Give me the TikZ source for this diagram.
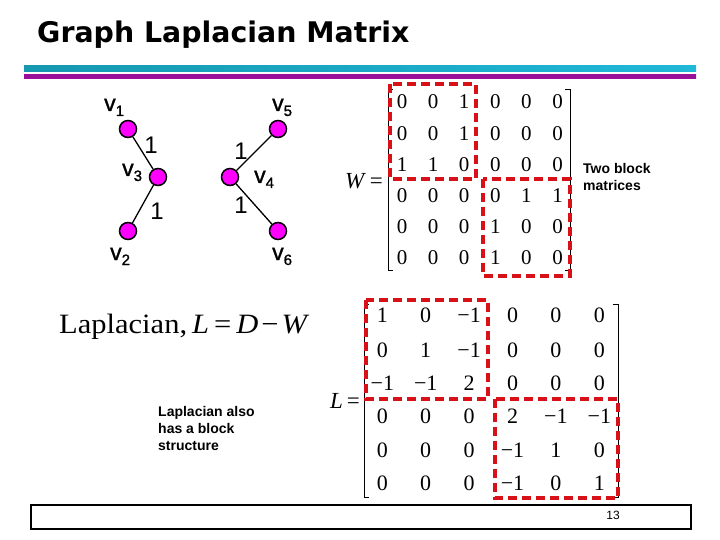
\documentclass[tikz,border=0pt]{standalone}
\usepackage{fontspec}
\setmainfont{Liberation Sans}
\newfontfamily\titlefont{DejaVu Sans}
\newfontfamily\mathserif{Liberation Serif}
\newfontfamily\wideserif[FakeStretch=1.09]{Liberation Serif}
\newfontfamily\medsans[FakeBold=1.2]{Liberation Sans}
\definecolor{nodepink}{HTML}{FF00FF}
\definecolor{dashred}{HTML}{D81018}
\definecolor{barcyan}{HTML}{20B8D8}
\definecolor{barcyand}{HTML}{1598B0}
\definecolor{barpurple}{HTML}{D820D0}
\definecolor{barpurpled}{HTML}{981098}
\tikzset{
  vertex/.style={circle,draw=black,line width=1.5pt,fill=nodepink,minimum size=17pt,inner sep=0pt},
  edgeline/.style={line width=1.3pt,black},
  vlabel/.style={anchor=base west,inner sep=0pt,font=\medsans\fontsize{23}{23}\selectfont},
  wlabel/.style={inner sep=0pt,font=\fontsize{24}{24}\selectfont},
  note/.style={anchor=north west,inner sep=0pt,align=left,font=\fontsize{14}{17}\bfseries\selectfont},
  wcell/.style={inner sep=0pt,font=\mathserif\fontsize{21}{21}\selectfont},
  lcell/.style={inner sep=0pt,font=\mathserif\fontsize{22}{22}\selectfont},
  mathtext/.style={inner sep=0pt,font=\mathserif\fontsize{23}{23}\selectfont},
  brack/.style={line width=1pt,black},
  redbox/.style={draw=dashred,line width=3.6pt,dash pattern=on 9pt off 5pt},
}
\newcommand{\sbs}[1]{\raisebox{-5pt}{\fontsize{15}{15}\selectfont #1}}
\begin{document}
\begin{tikzpicture}[x=1pt,y=-1pt]
\useasboundingbox (0,0) rectangle (720,540);
\fill[white] (0,0) rectangle (720,540);
% title
\node[anchor=base west,inner sep=0pt,font=\titlefont\bfseries\fontsize{28.4}{29}\selectfont] (title) at (37,43) {Graph Laplacian Matrix};
% bars
\shade[left color=barcyand,middle color=barcyan,right color=barcyan] (24,66) rectangle (696,72);
\shade[left color=barpurpled,middle color=barpurple,right color=barpurpled] (24,75) rectangle (696,79);
% graph
\node[vertex] (n1) at (128,129) {};
\node[vertex] (n3) at (158,177) {};
\node[vertex] (n2) at (128,231) {};
\node[vertex] (n5) at (278,129) {};
\node[vertex] (n4) at (230,177) {};
\node[vertex] (n6) at (278,231) {};
\draw[edgeline] (n1) -- (n3);
\draw[edgeline] (n3) -- (n2);
\draw[edgeline] (n5) -- (n4);
\draw[edgeline] (n4) -- (n6);
\node[vlabel] (l1) at (104,111) {v\sbs{1}};
\node[vlabel] (l5) at (272,111) {v\sbs{5}};
\node[vlabel] (l3) at (122,176) {v\sbs{3}};
\node[vlabel] (l4) at (254,183) {v\sbs{4}};
\node[vlabel] (l2) at (110,260) {v\sbs{2}};
\node[vlabel] (l6) at (272,260) {v\sbs{6}};
\node[wlabel] (w1) at (151,145) {1};
\node[wlabel] (w2) at (157,211) {1};
\node[wlabel] (w3) at (241,151) {1};
\node[wlabel] (w4) at (241,205) {1};
% W matrix
\node[mathtext,anchor=east] (Wlab) at (383,181) {\textit{W}\,=};
\foreach \r/\y/\vals in {1/101.7/{0,0,1,0,0,0},2/133.3/{0,0,1,0,0,0},3/164.3/{1,1,0,0,0,0},4/195.7/{0,0,0,0,1,1},5/226.7/{0,0,0,1,0,0},6/257.3/{0,0,0,1,0,0}}{
  \foreach \v [count=\c] in \vals {
    \pgfmathsetmacro{\xx}{402+31.1*(\c-1)}
    \node[wcell] (W\r\c) at (\xx,\y) {\v};
  }
}
\draw[brack] (393,90) -- (388,90) -- (388,270) -- (393,270);
\draw[brack] (565,90) -- (570,90) -- (570,270) -- (565,270);
\draw[redbox] (390,84) rectangle (476,179);
\draw[redbox] (483,179) rectangle (570,276);
\node[note] (two) at (583,163.5) {Two block\\matrices};
% Laplacian formula
\node[anchor=base west,inner sep=0pt,font=\wideserif\fontsize{28}{28}\selectfont] (form) at (59,333) {Laplacian,\kern5pt\textit{L}\kern5pt=\kern5pt\textit{D}\kern3pt−\kern3pt\textit{W}};
\node[note] (also) at (158,406) {Laplacian also\\has a block\\structure};
% L matrix
\node[mathtext,anchor=east] (Llab) at (360,401) {\textit{L}\,=};
\foreach \r/\y/\vals in {1/315.7/{1,0,−1,0,0,0},2/350/{0,1,−1,0,0,0},3/383.3/{−1,−1,2,0,0,0},4/416.7/{0,0,0,2,−1,−1},5/450/{0,0,0,−1,1,0},6/483.3/{0,0,0,−1,0,1}}{
  \foreach \v [count=\c] in \vals {
    \pgfmathsetmacro{\xx}{382.3+43.4*(\c-1)}
    \node[lcell] (L\r\c) at (\xx,\y) {\v};
  }
}
\draw[brack] (369,304) -- (364,304) -- (364,497) -- (369,497);
\draw[brack] (613,304) -- (618,304) -- (618,497) -- (613,497);
\draw[redbox] (366,300) rectangle (488,399);
\draw[redbox] (495,399) rectangle (618,498);
% footer
\node[draw=black,line width=2pt,minimum width=660pt,minimum height=24pt,inner sep=0pt,anchor=north west] (foot) at (30,503.5) {};
\node[inner sep=0pt,font=\fontsize{12}{12}\selectfont] (pg) at (613,515.5) {13};
\end{tikzpicture}
\end{document}
